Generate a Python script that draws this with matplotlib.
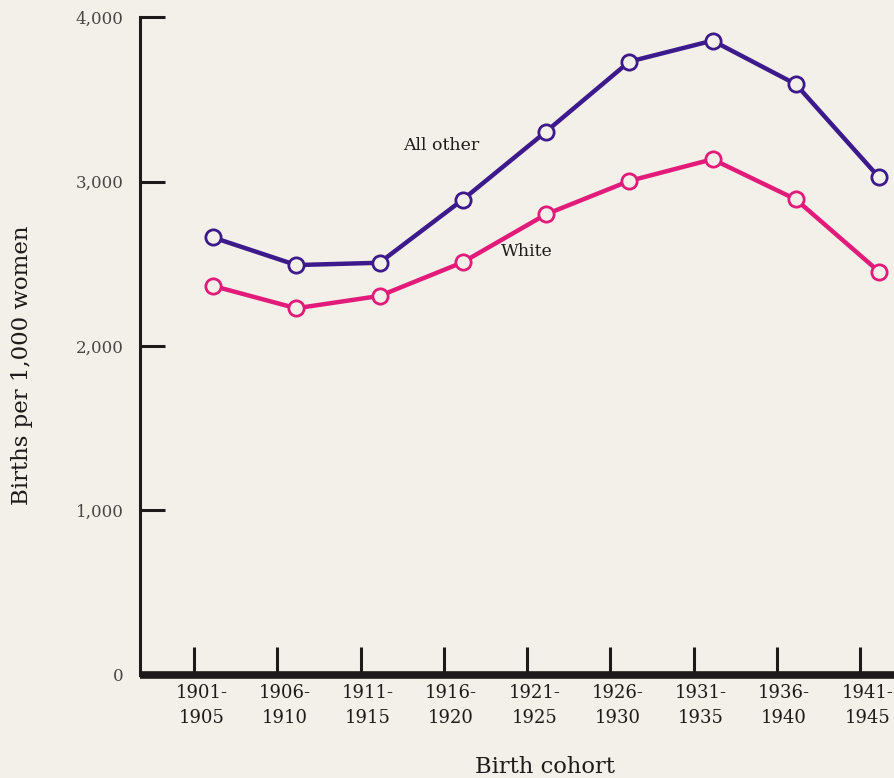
import numpy as np
import matplotlib
matplotlib.use("Agg")
import matplotlib.pyplot as plt

# birth cohorts and cumulative births per 1,000 women
cohorts = ["1901-\n1905", "1906-\n1910", "1911-\n1915", "1916-\n1920", "1921-\n1925",
           "1926-\n1930", "1931-\n1935", "1936-\n1940", "1941-\n1945"]
all_other = [2660, 2492, 2506, 2890, 3304, 3730, 3858, 3593, 3026]
white = [2365, 2229, 2304, 2509, 2801, 3004, 3136, 2892, 2452]
yticks = [0, 1000, 2000, 3000, 4000]
ytick_labels = ["0", "1,000", "2,000", "3,000", "4,000"]

bg = "#f2f0e8"
purple = "#3d1a8c"
pink = "#e21b7a"
ink = "#1e1a1a"

plt.rcParams["font.family"] = ["DejaVu Serif"]

fig = plt.figure(figsize=(8.95, 7.78), dpi=100, facecolor=bg)
ax = fig.add_axes([140 / 895, 1 - 674.5 / 778, (895 - 140) / 895, (674.5 - 17.3) / 778])
ax.set_facecolor(bg)

x = np.arange(len(cohorts))
ax.plot(x, white, color=pink, lw=3.2, marker="o", ms=11, mfc=bg, mec=pink, mew=2.0, zorder=3)
ax.plot(x, all_other, color=purple, lw=3.2, marker="o", ms=11, mfc=bg, mec=purple, mew=2.0, zorder=3)

ax.annotate("All other", xy=(441 / 895, 1 - 146 / 778), xycoords="figure fraction",
            fontsize=12.5, color=ink, ha="center", va="center")
ax.annotate("White", xy=(527 / 895, 1 - 251 / 778), xycoords="figure fraction",
            fontsize=12.5, color=ink, ha="center", va="center")

ax.set_xlim((140 - 213) / 83.25, (895 - 213) / 83.25)
ax.set_ylim(0, 4000)

# tick marks sit a little left of each point, labels between
ax.set_xticks(x - 0.226)
ax.set_xticklabels([])
ax.tick_params(axis="x", which="major", direction="in", length=20, width=2.2, color=ink)
ax.set_xticks(x - 0.14, minor=True)
ax.set_xticklabels(cohorts, minor=True, fontsize=13, color=ink, linespacing=1.45)
ax.tick_params(axis="x", which="minor", length=0, pad=7)

ax.set_yticks(yticks)
ax.set_yticklabels(ytick_labels, fontsize=12, color="#4a4646")
ax.tick_params(axis="y", direction="in", length=18, width=2.2, color=ink, pad=12)

for s in ["top", "right"]:
    ax.spines[s].set_visible(False)
ax.spines["left"].set_linewidth(2.2)
ax.spines["left"].set_color(ink)
ax.spines["bottom"].set_linewidth(5.5)
ax.spines["bottom"].set_color(ink)
ax.spines["bottom"].set_capstyle("butt")

ax.set_ylabel("Births per 1,000 women", fontsize=16.5, color=ink, va="baseline")
ax.yaxis.set_label_coords((28 - 140) / 755, (674.5 - 365) / 657.2)
ax.set_xlabel("Birth cohort", fontsize=16.3, color=ink, va="baseline")
ax.xaxis.set_label_coords((545 - 140) / 755, -(773 - 674.5) / 657.2)

fig.savefig("out.png", dpi=100, facecolor=bg)
